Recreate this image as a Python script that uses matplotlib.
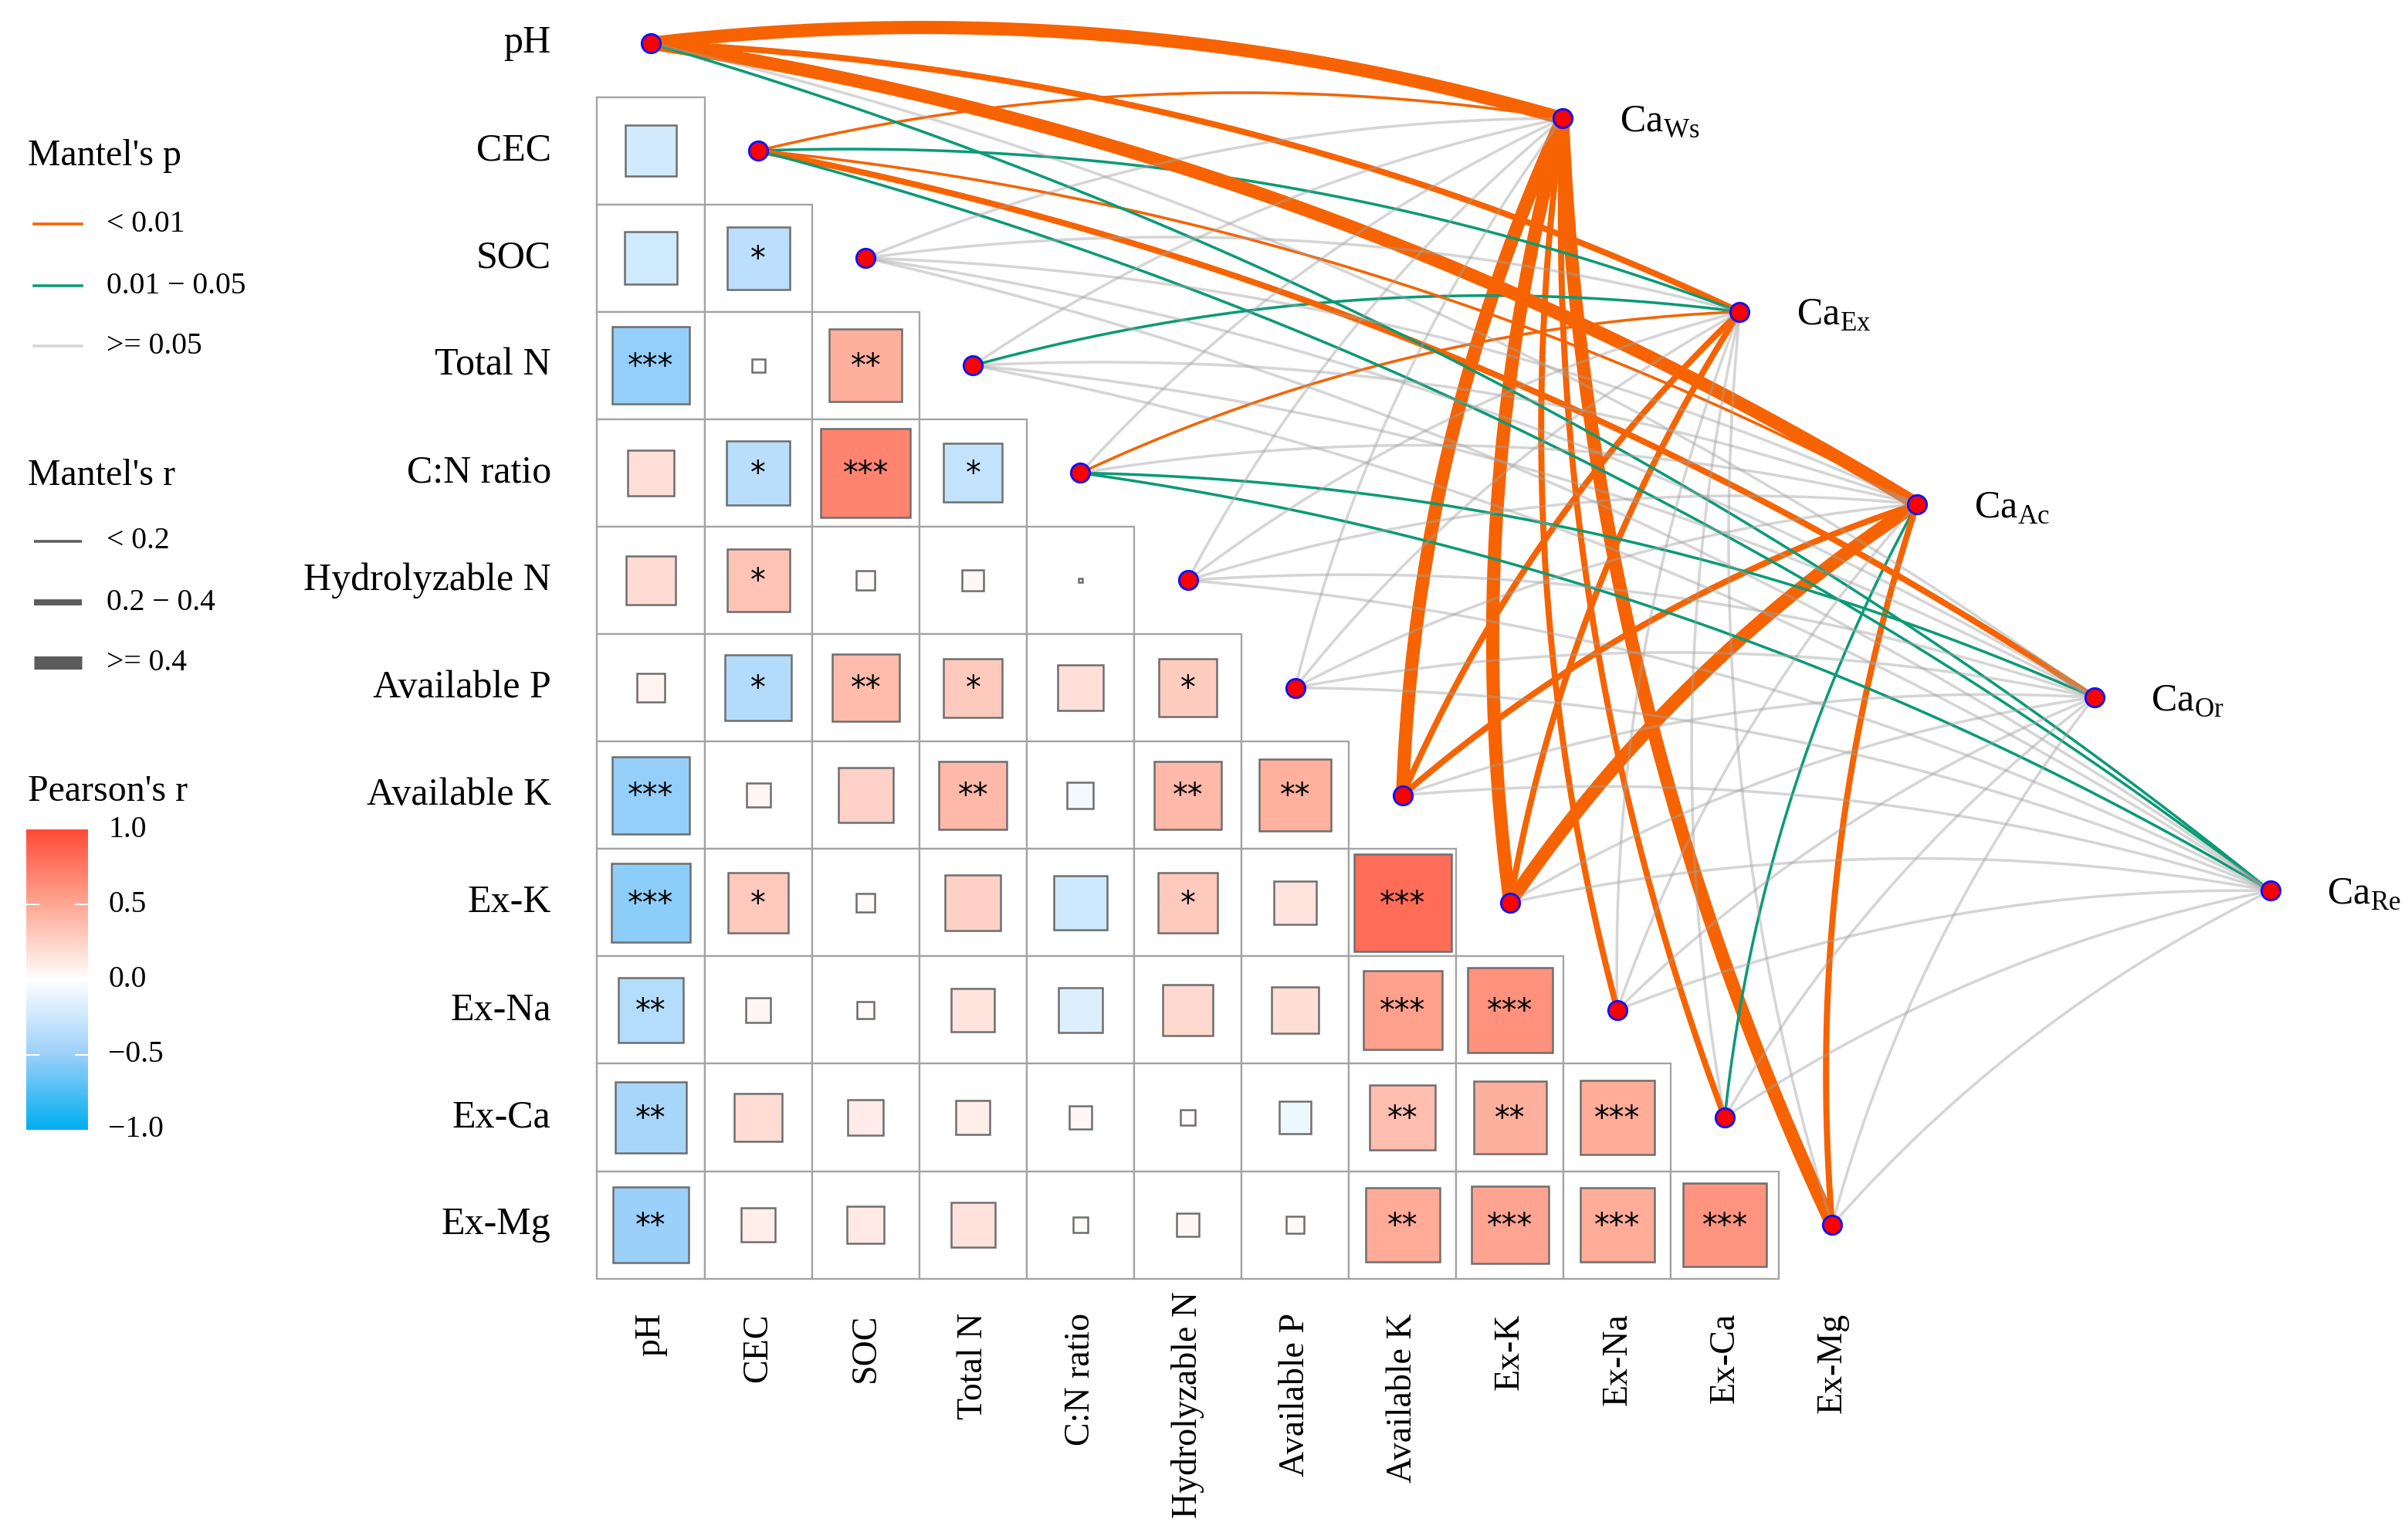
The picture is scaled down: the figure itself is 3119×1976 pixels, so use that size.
import numpy as np
import matplotlib.pyplot as plt
from matplotlib.colors import LinearSegmentedColormap, Normalize
from matplotlib.patches import Rectangle

plt.rcParams['font.family'] = ['Liberation Serif', 'DejaVu Serif']
plt.rcParams['mathtext.fontset'] = 'custom'
plt.rcParams['mathtext.rm'] = 'Liberation Serif'

# 土壌因子
env_vars = ['pH', 'CEC', 'SOC', 'Total N', 'C:N ratio', 'Hydrolyzable N',
            'Available P', 'Available K', 'Ex-K', 'Ex-Na', 'Ex-Ca', 'Ex-Mg']

# Pearson r (下三角, 行iは列0..i-1)
pearson_r = [
    [],
    [-0.22],
    [-0.235, -0.34],
    [-0.52, 0.015, 0.46],
    [0.18, -0.35, 0.69, -0.30],
    [0.21, 0.34, 0.03, 0.04, 0.001],
    [0.07, -0.38, 0.39, 0.30, 0.18, 0.29],
    [-0.52, 0.05, 0.26, 0.40, -0.06, 0.40, 0.45],
    [-0.54, 0.31, 0.03, 0.27, -0.25, 0.31, 0.16, 0.82],
    [-0.37, 0.055, 0.026, 0.16, -0.17, 0.22, 0.19, 0.54, 0.62],
    [-0.43, 0.20, 0.11, 0.10, 0.045, 0.02, -0.09, 0.37, 0.46, 0.47],
    [-0.50, 0.10, 0.12, 0.17, 0.02, 0.045, 0.026, 0.48, 0.52, 0.47, 0.60],
]
pearson_sig = [
    [],
    [''],
    ['', '*'],
    ['***', '', '**'],
    ['', '*', '***', '*'],
    ['', '*', '', '', ''],
    ['', '*', '**', '*', '', '*'],
    ['***', '', '', '**', '', '**', '**'],
    ['***', '*', '', '', '', '*', '', '***'],
    ['**', '', '', '', '', '', '', '***', '***'],
    ['**', '', '', '', '', '', '', '**', '**', '***'],
    ['**', '', '', '', '', '', '', '**', '***', '***', '***'],
]

# Mantel test: p区分 0:<0.01 1:0.01-0.05 2:>=0.05 / r区分 0:<0.2 1:0.2-0.4 2:>=0.4
ca_names = ['Ws', 'Ex', 'Ac', 'Or', 'Re']
mantel_p = {
    'Ws': [0, 0, 2, 2, 2, 2, 2, 0, 0, 0, 0, 0],
    'Ex': [0, 1, 2, 1, 0, 2, 2, 0, 0, 2, 2, 2],
    'Ac': [0, 0, 2, 2, 2, 2, 2, 0, 0, 2, 1, 0],
    'Or': [2, 0, 2, 2, 1, 2, 2, 2, 2, 2, 2, 2],
    'Re': [1, 1, 2, 2, 1, 2, 2, 2, 2, 2, 2, 2],
}
mantel_r = {
    'Ws': [2, 0, 0, 0, 0, 0, 0, 2, 2, 1, 1, 2],
    'Ex': [1, 0, 0, 0, 0, 0, 0, 1, 1, 0, 0, 0],
    'Ac': [2, 0, 0, 0, 0, 0, 0, 1, 2, 0, 0, 1],
    'Or': [0, 1, 0, 0, 0, 0, 0, 0, 0, 0, 0, 0],
    'Re': [0, 0, 0, 0, 0, 0, 0, 0, 0, 0, 0, 0],
}

# 表示設定
ca_x = [8.49, 10.14, 11.79, 13.44, 15.08]
ca_y = [0.70, 2.50, 4.29, 6.09, 7.89]
p_colors = ['#F66300', '#0B9A76', '#A2A2A2']
p_alpha = [1.0, 1.0, 0.45]
r_widths = [0.85, 1.9, 4.1]

cmap = LinearSegmentedColormap.from_list(
    'pr', [(0.0, '#00AFF0'), (0.25, '#9BD0FA'), (0.5, '#FFFFFF'),
           (0.75, '#FFA894'), (1.0, '#FF4B37')])
norm = Normalize(-1, 1)

W, H = 3119, 1976
fig = plt.figure(figsize=(W / 300, H / 300), dpi=300)
ax = fig.add_axes([0, 0, 1, 1])
px = 139.1
ax.set_xlim(-843 / px, (W - 843) / px)
ax.set_ylim((H - 56) / px, -56 / px)
ax.axis('off')

# ヒートマップ
for i in range(1, len(env_vars)):
    for j in range(i):
        ax.add_patch(Rectangle((j - 0.5, i - 0.5), 1, 1, facecolor='white',
                               edgecolor='#A3A3A3', lw=0.55, zorder=1))
        r = pearson_r[i][j]
        s = np.sqrt(abs(r))
        ax.add_patch(Rectangle((j - s / 2, i - s / 2), s, s, facecolor=cmap(norm(r)),
                               edgecolor='#6E6E6E', lw=0.6, zorder=2))
        if pearson_sig[i][j]:
            ax.text(j, i + 0.02, pearson_sig[i][j], ha='center', va='center',
                    fontsize=9.5, family='DejaVu Sans', zorder=3)


def curve(p0, p1, c=0.1, n=80):
    d = p1 - p0
    ctrl = (p0 + p1) / 2 + c * np.array([-d[1], d[0]])
    t = np.linspace(0, 1, n)[:, None]
    return (1 - t) ** 2 * p0 + 2 * (1 - t) * t * ctrl + t ** 2 * p1


# Mantel の線 (灰色は最後に重ねる)
for layer in [0, 1]:
    for k, ca in enumerate(ca_names):
        p0 = np.array([ca_x[k], ca_y[k]])
        for i in range(len(env_vars)):
            pc = mantel_p[ca][i]
            if (pc == 2) != (layer == 1):
                continue
            pts = curve(p0, np.array([float(i), float(i)]))
            ax.plot(pts[:, 0], pts[:, 1], color=p_colors[pc], alpha=p_alpha[pc],
                    lw=r_widths[mantel_r[ca][i]], solid_capstyle='butt',
                    zorder=4 + layer)

idx = np.arange(len(env_vars))
ax.scatter(idx, idx, s=34, facecolor='#FF0000', edgecolor='#1010FF', lw=0.7, zorder=7)
ax.scatter(ca_x, ca_y, s=34, facecolor='#FF0000', edgecolor='#1010FF', lw=0.7, zorder=7)

for k, ca in enumerate(ca_names):
    ax.text(ca_x[k] + 0.53, ca_y[k] + 0.12, 'Ca$_{\\mathrm{' + ca + '}}$',
            ha='left', va='baseline', fontsize=12)

for i, name in enumerate(env_vars):
    ax.text(-0.93, i, name, ha='right', va='center', fontsize=12)
    ytop = 11.62 if name == 'Hydrolyzable N' else 11.82
    ax.text(i, ytop, name, ha='center', va='top', rotation=90, fontsize=11)

# 凡例
lg = fig.add_axes([0, 0, 1, 1])
lg.set_xlim(0, W)
lg.set_ylim(H, 0)
lg.axis('off')

lg.text(36, 202, "Mantel's p", ha='left', va='center', fontsize=11.5)
p_labels = ['< 0.01', '0.01 \u2212 0.05', '>= 0.05']
for k, yy in enumerate([290, 370, 448]):
    lg.plot([44, 106], [yy, yy], color=p_colors[k], alpha=p_alpha[k], lw=0.85)
    lg.text(138, yy, p_labels[k], ha='left', va='center', fontsize=9.5)

lg.text(36, 616, "Mantel's r", ha='left', va='center', fontsize=11.5)
r_labels = ['< 0.2', '0.2 \u2212 0.4', '>= 0.4']
for k, yy in enumerate([701, 780, 858]):
    lg.plot([44, 106], [yy, yy], color='#5C5C5C', lw=r_widths[k], solid_capstyle='butt')
    lg.text(138, yy, r_labels[k], ha='left', va='center', fontsize=9.5)

lg.text(36, 1025, "Pearson's r", ha='left', va='center', fontsize=11.5)
grad = np.linspace(1, -1, 256)[:, None]
lg.imshow(grad, extent=(34, 114, 1463, 1074), cmap=cmap, norm=norm,
          aspect='auto', origin='upper', interpolation='bilinear')
lg.set_xlim(0, W)
lg.set_ylim(H, 0)
cb_ticks = [1.0, 0.5, 0.0, -0.5, -1.0]
for v in cb_ticks:
    yy = 1268.5 - v * 194.5
    if abs(v) < 1:
        lg.plot([34, 50], [yy, yy], color='white', lw=0.5)
        lg.plot([98, 114], [yy, yy], color='white', lw=0.5)
    lg.text(140, yy, f'{v:.1f}'.replace('-', '\u2212'), ha='left', va='center', fontsize=9.5)

fig.savefig('out.png', dpi=300)
